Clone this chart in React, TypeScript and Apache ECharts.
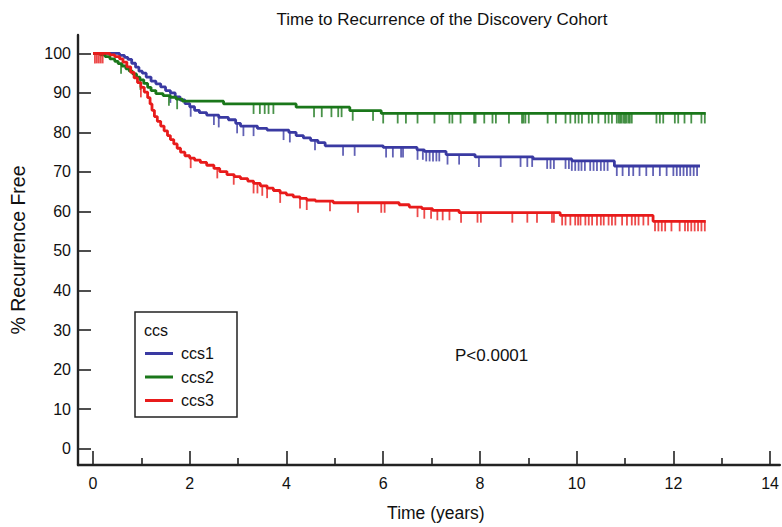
import React, { useEffect, useRef } from "react";
import * as echarts from "echarts";

const chartTitle = "Time to Recurrence of the Discovery Cohort";
const xAxisName = "Time (years)";
const yAxisName = "% Recurrence Free";
const legendTitle = "ccs";
const pValueText = "P<0.0001";
const seriesNames = ["ccs1", "ccs2", "ccs3"];
const seriesColors = ["#3a3aa2", "#1a771a", "#e81b1b"];
const xMajorTicks = [0, 2, 4, 6, 8, 10, 12, 14];
const xMinorTicks = [1, 3, 5, 7, 9, 11, 13];
const yTicks = [0, 10, 20, 30, 40, 50, 60, 70, 80, 90, 100];

// ccs1 (blue) Kaplan-Meier step points
const ccs1Times = [0, 0.55, 0.65, 0.72, 0.8, 0.88, 0.95, 1.02, 1.1, 1.2, 1.3, 1.4, 1.5, 1.6, 1.7, 1.8, 1.9, 2.0, 2.1, 2.2, 2.35, 2.6, 2.8, 2.95, 3.05, 3.4, 3.6, 4.05, 4.2, 4.35, 4.5, 4.65, 4.8, 6.0, 6.7, 6.85, 7.3, 7.9, 9.1, 9.9, 10.78, 12.55];
const ccs1Surv = [100, 99.5, 99, 98.5, 97.5, 96.5, 95.5, 95, 94, 93, 92.3, 91.5, 90.6, 90, 89, 88.2, 87.3, 86.5, 85.6, 85, 84.4, 83.8, 83.2, 82.3, 81.6, 81, 80.6, 80, 79.2, 78.6, 78, 77.4, 76.6, 76.2, 75.6, 75.2, 74.4, 73.8, 73.3, 72.8, 71.5, 71.5];
const ccs1Censor = [1.6, 2.02, 2.5, 2.6, 2.98, 3.11, 3.32, 3.94, 4.07, 4.59, 5.17, 5.41, 6.06, 6.2, 6.37, 6.41, 6.71, 6.82, 6.89, 6.96, 7.03, 7.1, 7.16, 7.33, 7.57, 7.98, 8.43, 8.84, 8.98, 9.08, 9.39, 9.46, 9.53, 9.77, 9.84, 9.9, 9.97, 10.04, 10.1, 10.17, 10.28, 10.35, 10.42, 10.5, 10.57, 10.64, 10.83, 10.95, 11.08, 11.17, 11.3, 11.44, 11.58, 11.72, 11.86, 12.0, 12.07, 12.14, 12.21, 12.28, 12.35, 12.42, 12.49];

// ccs2 (green)
const ccs2Times = [0, 0.15, 0.25, 0.35, 0.45, 0.52, 0.6, 0.68, 0.75, 0.82, 0.9, 0.97, 1.05, 1.13, 1.2, 1.3, 1.45, 1.6, 1.72, 1.85, 2.7, 4.2, 5.31, 5.96, 12.67];
const ccs2Surv = [100, 99.6, 99.2, 98.6, 98, 97.4, 96.8, 96.1, 95.5, 94.8, 94, 93.3, 92.4, 91.4, 90.6, 89.8, 89.3, 88.9, 88.4, 87.9, 87.2, 86.4, 85.5, 84.8, 84.8];
const ccs2Censor = [0.58, 0.98, 1.57, 1.74, 3.32, 3.45, 3.55, 3.63, 3.73, 4.57, 4.73, 4.93, 5.07, 5.14, 5.37, 5.79, 6.0, 6.3, 6.47, 6.71, 7.06, 7.37, 7.43, 7.6, 7.88, 7.91, 8.09, 8.26, 8.33, 8.6, 8.87, 8.9, 8.94, 9.01, 9.4, 9.57, 9.77, 9.87, 9.97, 10.04, 10.11, 10.25, 10.32, 10.45, 10.59, 10.66, 10.73, 10.83, 10.87, 10.9, 10.93, 10.97, 11.0, 11.03, 11.07, 11.1, 11.14, 11.65, 11.72, 11.79, 12.03, 12.1, 12.23, 12.37, 12.58, 12.65];

// ccs3 (red)
const ccs3Times = [0, 0.35, 0.45, 0.55, 0.62, 0.7, 0.78, 0.85, 0.92, 0.99, 1.06, 1.13, 1.18, 1.22, 1.27, 1.33, 1.4, 1.47, 1.54, 1.6, 1.67, 1.74, 1.81, 1.9, 2.0, 2.1, 2.22, 2.35, 2.5, 2.62, 2.77, 2.92, 3.05, 3.2, 3.32, 3.46, 3.6, 3.73, 3.87, 4.0, 4.14, 4.28, 4.42, 4.6, 4.97, 6.33, 6.54, 6.8, 7.02, 7.57, 9.66, 11.58, 12.67];
const ccs3Surv = [100, 99.6, 99.2, 98.6, 97.8, 96.6, 95.2, 93.8, 92.6, 91.4, 90.2, 88.8, 87.2, 85.6, 84, 82.8, 81.6, 80.4, 79.2, 78.2, 77.1, 76, 75, 74.1, 73.5, 73, 72.4, 71.7, 70.9, 70.1, 69.3, 68.8, 68.3, 67.7, 67.1, 66.5, 65.9, 65.3, 64.7, 64.2, 63.7, 63.3, 62.9, 62.6, 62.2, 61.7, 61.1, 60.7, 60.3, 59.7, 59.0, 57.5, 57.5];
const ccs3Censor = [0.04, 0.08, 0.12, 0.16, 0.2, 0.99, 2.02, 2.57, 2.91, 3.32, 3.4, 3.5, 3.6, 3.87, 4.28, 4.42, 4.9, 5.48, 5.96, 6.03, 6.71, 6.85, 6.99, 7.12, 7.23, 7.37, 7.61, 7.95, 8.02, 8.67, 8.98, 9.18, 9.49, 9.53, 9.7, 9.77, 9.87, 9.97, 10.03, 10.08, 10.18, 10.25, 10.32, 10.42, 10.5, 10.56, 10.66, 10.73, 10.8, 10.94, 11.04, 11.14, 11.21, 11.28, 11.38, 11.48, 11.62, 11.69, 11.76, 11.83, 11.96, 12.13, 12.24, 12.3, 12.37, 12.44, 12.51, 12.58, 12.65];

const FONT = "Liberation Sans, Arial, sans-serif";

function survAt(times: number[], surv: number[], t: number): number {
  let v = surv[0];
  for (let i = 0; i < times.length; i++) {
    if (times[i] <= t) v = surv[i];
  }
  return v;
}

export default function App() {
  const ref = useRef<HTMLDivElement>(null);
  useEffect(() => {
    if (!ref.current) return;
    const chart = echarts.init(ref.current, null, { renderer: "svg" });
    const groups = [
      { t: ccs1Times, s: ccs1Surv, c: ccs1Censor },
      { t: ccs2Times, s: ccs2Surv, c: ccs2Censor },
      { t: ccs3Times, s: ccs3Surv, c: ccs3Censor },
    ];
    const lineSeries: any[] = groups.map((g, i) => ({
      name: seriesNames[i],
      type: "line",
      step: "end",
      showSymbol: false,
      symbol: "none",
      xAxisIndex: 0,
      data: g.t.map((t, k) => [t, g.s[k]]),
      lineStyle: { color: seriesColors[i], width: 2.8 },
      itemStyle: { color: seriesColors[i] },
      z: 2 + i,
    }));
    const censorSeries: any[] = groups.map((g, i) => ({
      name: seriesNames[i] + " censored",
      type: "scatter",
      symbol: "rect",
      symbolSize: [1.8, 10],
      symbolOffset: [0, 5],
      xAxisIndex: 0,
      data: g.c.map((t) => [t, survAt(g.t, g.s, t)]),
      itemStyle: { color: seriesColors[i] },
      z: 2 + i,
    }));
    const axisColor = "#222";
    const textColor = "#111";
    chart.setOption({
      animation: false,
      backgroundColor: "#ffffff",
      title: {
        text: chartTitle,
        left: 437,
        top: 6,
        textAlign: "center",
        textStyle: { fontFamily: FONT, fontSize: 17, fontWeight: "normal", color: textColor },
      },
      grid: { left: 77, right: 0, top: 35, bottom: 59 },
      xAxis: [
        {
          type: "value",
          min: -0.31,
          max: 14.2,
          name: xAxisName,
          nameLocation: "middle",
          nameGap: 39,
          nameTextStyle: { fontFamily: FONT, fontSize: 17.5, color: textColor, padding: [0, 0, 0, 14] },
          axisLine: { show: true, onZero: false, lineStyle: { color: axisColor, width: 2.4 } },
          axisTick: { show: true, inside: true, length: 14, customValues: xMajorTicks, lineStyle: { color: axisColor, width: 1.6 } },
          axisLabel: { fontFamily: FONT, fontSize: 16, color: textColor, margin: 10, customValues: xMajorTicks },
          splitLine: { show: false },
        },
        {
          type: "value",
          min: -0.31,
          max: 14.2,
          position: "bottom",
          axisLine: { show: false, onZero: false },
          axisTick: { show: true, inside: true, length: 7, customValues: xMinorTicks, lineStyle: { color: axisColor, width: 1.6 } },
          axisLabel: { show: false },
          splitLine: { show: false },
        },
      ],
      yAxis: {
        type: "value",
        min: -4.15,
        max: 104.65,
        name: yAxisName,
        nameLocation: "middle",
        nameRotate: 90,
        nameGap: 50,
        nameTextStyle: { fontFamily: FONT, fontSize: 19.5, color: textColor },
        axisLine: { show: true, onZero: false, lineStyle: { color: axisColor, width: 2.4 } },
        axisTick: { show: true, inside: true, length: 13, customValues: yTicks, lineStyle: { color: axisColor, width: 1.6 } },
        axisLabel: { fontFamily: FONT, fontSize: 16, color: textColor, margin: 7, customValues: yTicks },
        splitLine: { show: false },
      },
      legend: {
        data: seriesNames,
        orient: "vertical",
        left: 145,
        top: 345.5,
        padding: 0,
        itemGap: 7.5,
        itemWidth: 28,
        itemHeight: 3,
        icon: "rect",
        textStyle: { fontFamily: FONT, fontSize: 16, color: textColor, padding: [0, 0, 0, 3] },
      },
      graphic: [
        { type: "rect", shape: { x: 135, y: 312, width: 102, height: 105 }, style: { fill: "#fff", stroke: "#222", lineWidth: 1.5 }, z: 0 },
        { type: "text", x: 144, y: 330, style: { text: legendTitle, fontFamily: FONT, fontSize: 16, fill: textColor, verticalAlign: "middle" }, z: 10 },
        { type: "text", x: 455, y: 355, style: { text: pValueText, fontFamily: FONT, fontSize: 17, fill: textColor, verticalAlign: "middle" }, z: 10 },
      ],
      series: [...lineSeries, ...censorSeries],
    });
    return () => chart.dispose();
  }, []);
  return <div ref={ref} style={{ position: "fixed", left: 0, top: 0, width: 782, height: 527, background: "#fff" }} />;
}
